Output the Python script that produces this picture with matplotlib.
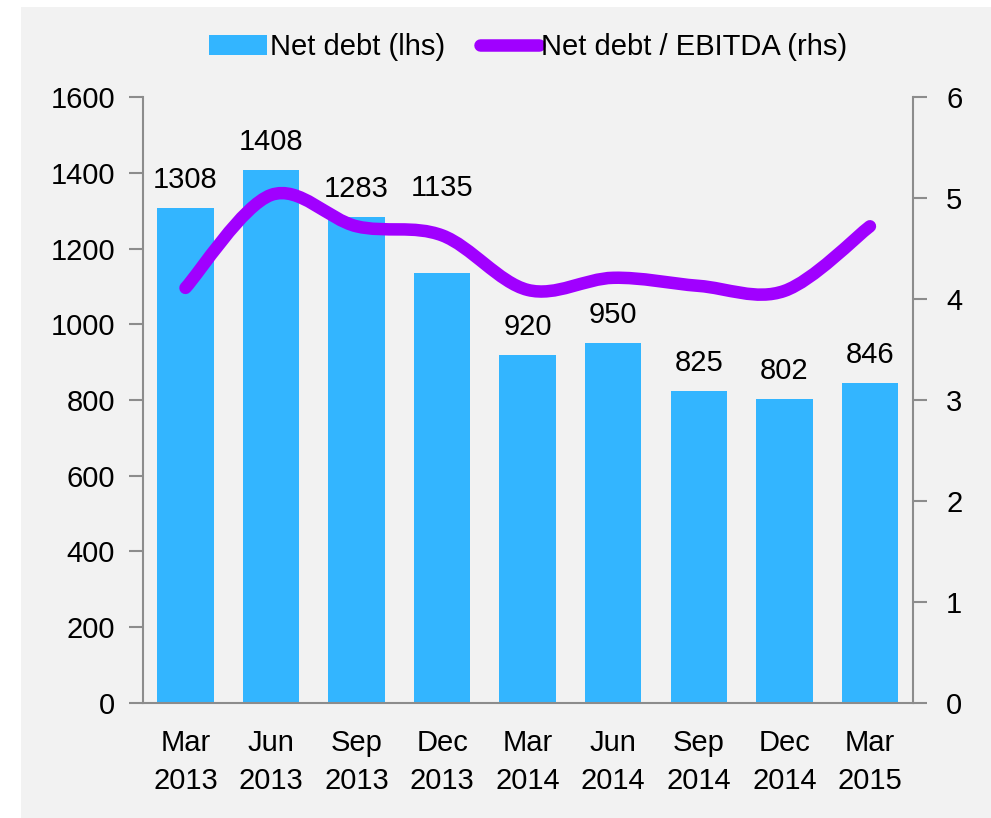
import numpy as np
import matplotlib
matplotlib.use("Agg")
import matplotlib.pyplot as plt
from matplotlib.path import Path
from matplotlib.patches import PathPatch, Rectangle, Patch
from matplotlib.lines import Line2D

plt.rcParams['font.family'] = ['Liberation Sans', 'DejaVu Sans']

# data
quarters = ['Mar\n2013', 'Jun\n2013', 'Sep\n2013', 'Dec\n2013', 'Mar\n2014',
            'Jun\n2014', 'Sep\n2014', 'Dec\n2014', 'Mar\n2015']
net_debt = [1308, 1408, 1283, 1135, 920, 950, 825, 802, 846]
debt_ebitda = [4.11, 5.03, 4.72, 4.63, 4.09, 4.21, 4.13, 4.08, 4.72]

# extra lift (points) for data labels moved off the line
label_lift = [0, 0, 0, 41, 0, 0, 0, 0, 0]

bar_color = '#33B5FF'
line_color = '#A000FF'
spine_color = '#8C8C8C'
fs = 21

fig = plt.figure(figsize=(9.91, 8.18), dpi=100)
fig.patch.set_facecolor('white')
fig.patches.append(Rectangle((0.0212, 0), 1, 0.9914, transform=fig.transFigure,
                             facecolor='#F2F2F2', edgecolor='none', zorder=-10))

ax = fig.add_axes([0.144, 0.1406, 0.777, 0.7408])
ax.patch.set_alpha(0)
x = np.arange(len(quarters))
bars = ax.bar(x, net_debt, width=0.66, color=bar_color, zorder=2)
ax.set_xlim(-0.5, len(quarters) - 0.5)
ax.set_ylim(0, 1600)
ax.set_yticks(range(0, 1601, 200))
ax.set_xticks(x)
ax.set_xticklabels(quarters, fontsize=fs, linespacing=1.42)
ax.tick_params(axis='x', length=0, pad=19)
ax.tick_params(axis='y', labelsize=fs, length=10, width=1.5, color=spine_color, pad=10)
for s in ['top', 'right']:
    ax.spines[s].set_visible(False)
for s in ['left', 'bottom']:
    ax.spines[s].set_color(spine_color)
    ax.spines[s].set_linewidth(1.5)

for xi, v, lift in zip(x, net_debt, label_lift):
    ax.annotate(str(v), (xi, v), xytext=(0, 10 + lift), textcoords='offset points',
                ha='center', va='bottom', fontsize=fs)

ax2 = ax.twinx()
ax2.patch.set_alpha(0)
ax2.set_ylim(0, 6)
ax2.set_yticks(range(0, 7))
ax2.tick_params(axis='y', labelsize=fs, length=10, width=1.5, color=spine_color, pad=14)
for s in ['top', 'left', 'bottom']:
    ax2.spines[s].set_visible(False)
ax2.spines['right'].set_color(spine_color)
ax2.spines['right'].set_linewidth(1.5)

# smoothed line (Catmull-Rom as cubic Bezier segments)
pts = np.column_stack([x, debt_ebitda]).astype(float)
verts = [tuple(pts[0])]
codes = [Path.MOVETO]
n = len(pts)
for i in range(n - 1):
    p0 = pts[max(i - 1, 0)]
    p1 = pts[i]
    p2 = pts[i + 1]
    p3 = pts[min(i + 2, n - 1)]
    c1 = p1 + (p2 - p0) / 6.0
    c2 = p2 - (p3 - p1) / 6.0
    verts += [tuple(c1), tuple(c2), tuple(p2)]
    codes += [Path.CURVE4] * 3
ax2.add_patch(PathPatch(Path(verts, codes), fill=False, edgecolor=line_color,
                        lw=9, capstyle='round', joinstyle='round', zorder=3))

handles = [Patch(facecolor=bar_color, edgecolor='none'),
           Line2D([], [], color=line_color, lw=9, solid_capstyle='round')]
fig.legend(handles, ['Net debt (lhs)', 'Net debt / EBITDA (rhs)'],
           loc='center', bbox_to_anchor=(0.533, 0.942), ncol=2, frameon=False,
           fontsize=fs, handlelength=2.0, handletextpad=0.1, columnspacing=1.2)

fig.savefig('out.png', dpi=100, facecolor=fig.get_facecolor())
